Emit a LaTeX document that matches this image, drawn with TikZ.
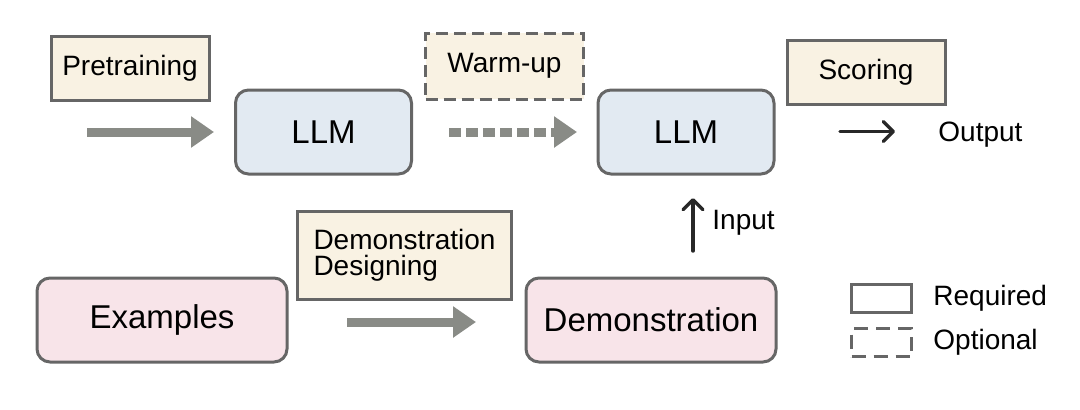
\documentclass[tikz,border=0pt]{standalone}
\usepackage{fontspec}
\setmainfont{Liberation Sans}
\usepackage{xcolor}
\usepackage{tikz}
\usetikzlibrary{positioning}
\usetikzlibrary{arrows.meta}
\usetikzlibrary{calc}

\definecolor{stepfill}{RGB}{249,242,227}
\definecolor{llmfill}{RGB}{226,234,242}
\definecolor{exfill}{RGB}{248,228,233}
\definecolor{edgegray}{RGB}{102,102,102}
\definecolor{flowgray}{RGB}{137,139,134}
\definecolor{ink}{RGB}{40,40,40}

\begin{document}
\begin{tikzpicture}[x=0.5pt,y=-0.5pt, node distance=4pt and 10pt,
  stepbox/.style={draw=edgegray,line width=1.5pt,fill=stepfill,inner sep=0pt,font=\fontsize{14}{13}\selectfont},
  modelbox/.style={draw=edgegray,line width=1.5pt,rounded corners=6.5pt,inner sep=0pt,minimum height=42pt,font=\fontsize{16.5}{19}\selectfont},
  flow/.style={draw=flowgray,line width=4.5pt,-{Triangle[length=11.5pt,width=15pt]}},
  thin/.style={draw=ink,line width=1.7pt,line cap=round,-{Straight Barb[length=5pt,width=10pt,line cap=round,line join=round]}},
  lbl/.style={inner sep=0pt,font=\fontsize{14}{16}\selectfont}]
\useasboundingbox (0,0) rectangle (1080,409);

\node[stepbox,minimum width=79pt,minimum height=32pt] (pre) at (130,68) {Pretraining};
\node[modelbox,fill=llmfill,minimum width=88pt] (llm1) at (323.5,132) {LLM};
\node[stepbox,dash pattern=on 6pt off 3pt,minimum width=79pt,minimum height=33pt] (warm) at (504.5,66) {Warm-up};
\node[modelbox,fill=llmfill,minimum width=88pt] (llm2) at (686,132) {LLM};
\node[stepbox,minimum width=79pt,minimum height=32pt] (score) at (866,72) {Scoring};
\node[lbl,anchor=west] (out) at (938,135) {Output};
%%%%%%%%%%%%%%
\node[modelbox,fill=exfill,minimum width=125pt] (ex) at (162,320) {Examples};
\node[stepbox,align=left,inner xsep=8pt,minimum width=107pt,minimum height=44pt,text width=91pt] (dd) at (404.5,255) {Demonstration\\Designing};
\node[modelbox,fill=exfill,minimum width=125pt] (demo) at (651,320) {Demonstration};
%%%%%%%%%%%%%%
\node[draw=edgegray,line width=1.5pt,minimum width=30pt,minimum height=14pt,inner sep=0pt] (req) at (881.5,298) {};
\node[lbl,right=10pt of req] {Required};
\node[draw=edgegray,line width=1.5pt,dash pattern=on 7pt off 4pt,minimum width=30pt,minimum height=14pt,inner sep=0pt] (opt) at (881.5,342.5) {};
\node[lbl,right=10pt of opt] {Optional};
%%%%%%%%%%%%%%%%%%%%%%%%%%%%%%%%%%%%%%%%%%
\coordinate (preA) at (87,132);
\coordinate (preB) at (214,132);
\coordinate (warmA) at (449,132);
\coordinate (warmB) at (577,132);
\coordinate (ddA) at (347,322);
\coordinate (ddB) at (476,322);
\coordinate (outA) at (840,131.5);
\coordinate (outB) at (895,131.5);
\coordinate (inA) at (693,251);
\coordinate (inB) at (693,198);

\draw[flow] (preA) -- (preB);
\draw[flow,dash pattern=on 6pt off 2.5pt] (warmA) -- (warmB);
\draw[flow] (ddA) -- (ddB);
\draw[thin] (outA) -- (outB);
\draw[thin] (inA) -- (inB);
\node[lbl,anchor=west] (inlbl) at (712,223) {Input};

\end{tikzpicture}
\end{document}
